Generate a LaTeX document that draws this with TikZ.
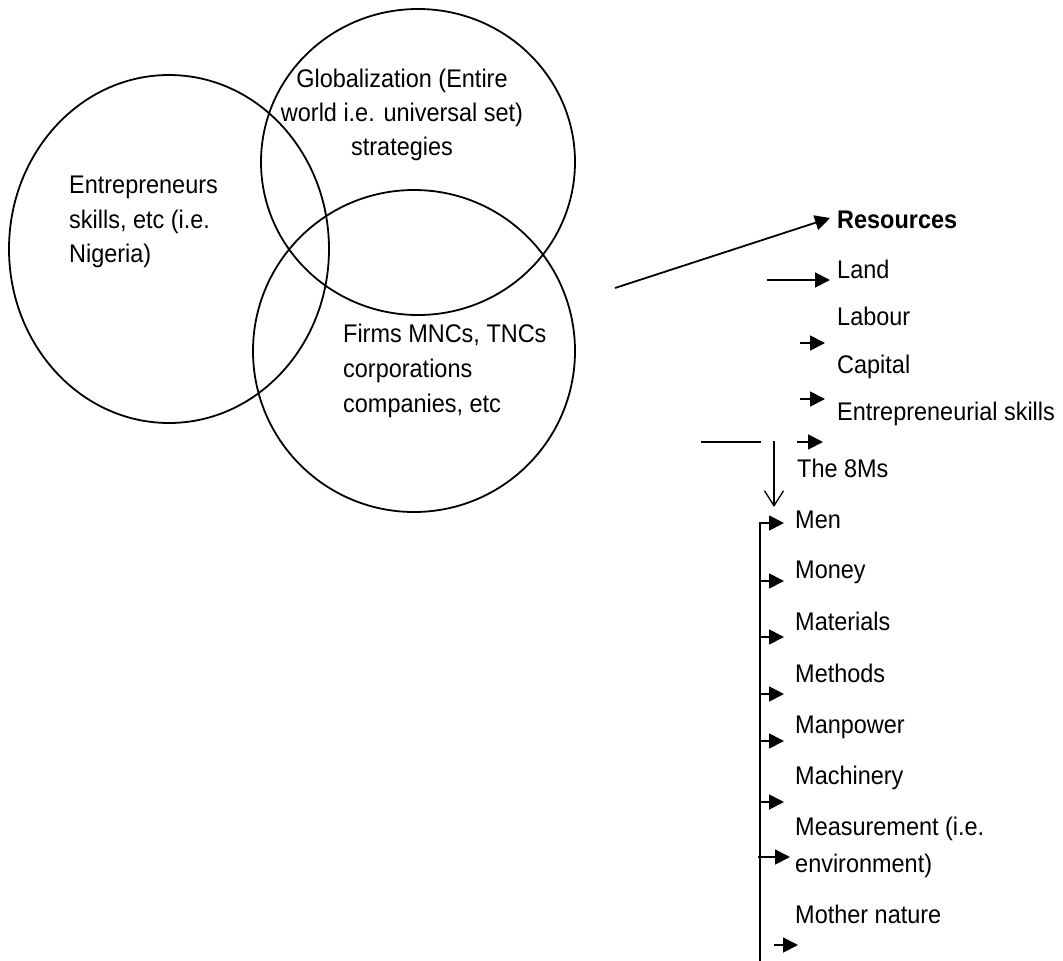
\documentclass[tikz,border=0pt]{standalone}
\usepackage{fontspec}
\setmainfont{Liberation Sans}[FakeStretch=0.92]
\usetikzlibrary{arrows.meta}
\begin{document}
\begin{tikzpicture}[x=1pt,y=-1pt,
  txt/.style={inner sep=0pt, anchor=base west, font=\fontsize{25.5}{34}\selectfont},
  ctxt/.style={txt, anchor=base},
  ring/.style={line width=1.8pt},
  conn/.style={line width=1.8pt},
  thin/.style={line width=1.3pt},
  tip/.style={-{Triangle[length=15pt,width=15pt]}},
  vtip/.style={-{Straight Barb[length=15pt,width=19pt]}},
]
\useasboundingbox (0,0) rectangle (1063,961);

% Venn sets
\draw[ring] (169,249) ellipse [x radius=160pt, y radius=174pt];
\draw[ring] (418,162) ellipse [x radius=157pt, y radius=153pt];
\draw[ring] (414,351) circle [radius=161pt];

\node[ctxt] (g1) at (402,87)  {Globalization (Entire};
\node[ctxt] (g2) at (402,121) {world i.e. universal set)};
\node[ctxt] (g3) at (402,155) {strategies};

\node[txt] (e1) at (69,193) {Entrepreneurs};
\node[txt] (e2) at (69,228) {skills, etc (i.e.};
\node[txt] (e3) at (69,262) {Nigeria)};

\node[txt] (f1) at (343,342) {Firms MNCs, TNCs};
\node[txt] (f2) at (343,377) {corporations};
\node[txt] (f3) at (343,412) {companies, etc};

% resources list
\node[txt, font=\fontsize{25.5}{34}\selectfont\bfseries] (res) at (837,228) {Resources};
\node[txt] (land) at (837,278) {Land};
\node[txt] (lab)  at (837,325) {Labour};
\node[txt] (cap)  at (837,373) {Capital};
\node[txt] (ent)  at (837,420) {Entrepreneurial skills};
\node[txt] (m8)   at (797,477) {The 8Ms};

% the 8Ms
\node[txt] (men)   at (795,528) {Men};
\node[txt] (money) at (795,578) {Money};
\node[txt] (mat)   at (795,630) {Materials};
\node[txt] (meth)  at (795,682) {Methods};
\node[txt] (manp)  at (795,733) {Manpower};
\node[txt] (mach)  at (795,784) {Machinery};
\node[txt] (meas)  at (795,835) {Measurement (i.e.};
\node[txt] (env)   at (795,872) {environment)};
\node[txt] (moth)  at (795,923) {Mother nature};

% arrow ends
\coordinate (s0) at (615,288);  \coordinate (t0) at (830,218);
\coordinate (s1) at (767,280);  \coordinate (t1) at (830,280);
\coordinate (s2) at (800,343);  \coordinate (t2) at (825,343);
\coordinate (s3) at (800,399);  \coordinate (t3) at (825,399);
\coordinate (s4) at (797,442);  \coordinate (t4) at (823,442);
\coordinate (h0) at (701,442);  \coordinate (h1) at (761,442);
\coordinate (v0) at (774,441);  \coordinate (v1) at (774,507);
\coordinate (bb) at (760,961);  \coordinate (bt) at (760,523);
\coordinate (k1) at (784,523);
\coordinate (k2a) at (760,581); \coordinate (k2) at (784,581);
\coordinate (k3a) at (760,637); \coordinate (k3) at (784,637);
\coordinate (k4a) at (760,694); \coordinate (k4) at (784,694);
\coordinate (k5a) at (760,741); \coordinate (k5) at (784,741);
\coordinate (k6a) at (760,802); \coordinate (k6) at (784,802);
\coordinate (k7a) at (758,857); \coordinate (k7) at (790,857);
\coordinate (k8a) at (774,945); \coordinate (k8) at (798,945);

\draw[conn,tip] (s0) -- (t0);
\draw[conn,tip] (s1) -- (t1);
\draw[conn,tip] (s2) -- (t2);
\draw[conn,tip] (s3) -- (t3);
\draw[conn,tip] (s4) -- (t4);
\draw[thin] (h0) -- (h1);
\draw[thin,vtip] (v0) -- (v1);
\draw[conn,tip] (bb) -- (bt) -- (k1);
\foreach \k in {2,...,8} \draw[conn,tip] (k\k a) -- (k\k);
\end{tikzpicture}
\end{document}
